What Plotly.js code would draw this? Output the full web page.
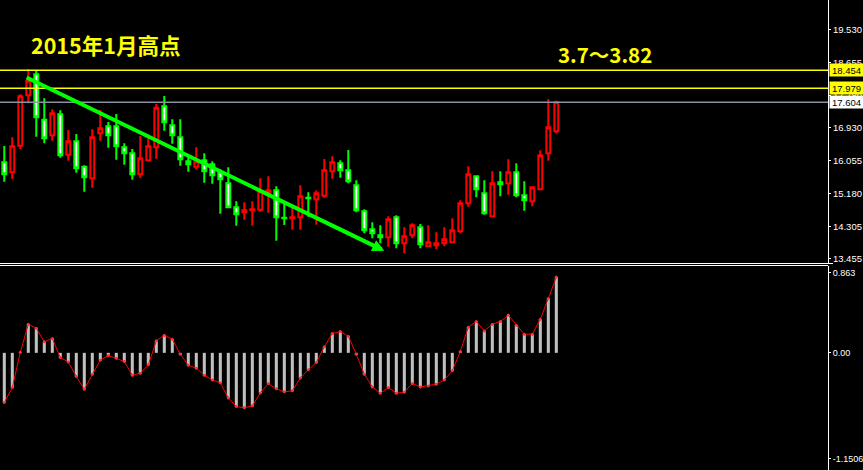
<!DOCTYPE html>
<html>
<head>
<meta charset="utf-8">
<script src="https://cdn.plot.ly/plotly-3.0.1.min.js"></script>
<style>
html,body{margin:0;padding:0;background:#000;}
#chart{width:863px;height:470px;}
</style>
</head>
<body>
<div id="chart"></div>
<script>
// ---- data ----
const open = [16.010,15.745,16.451,17.790,18.348,17.142,16.727,17.285,16.212,16.568,
  15.893,15.585,16.781,16.966,16.966,16.409,16.249,15.692,16.063,16.409,
  17.498,16.993,16.674,16.037,15.893,16.063,15.957,15.745,15.453,14.815,
  14.682,14.735,14.751,15.203,15.267,14.539,14.523,14.550,15.070,15.028,
  15.123,15.771,15.984,15.798,15.399,14.709,14.231,14.071,14.018,14.550,
  13.859,14.071,14.284,13.779,13.806,13.859,13.886,14.178,14.921,15.638,
  15.187,14.576,15.479,15.453,15.745,15.134,14.974,15.293,16.249,16.834];
const high = [16.443,16.674,17.816,18.480,18.435,17.710,17.418,17.391,16.868,16.762,
  15.931,16.887,17.399,17.081,17.293,16.515,16.364,16.709,16.664,17.559,
  17.771,17.152,17.152,16.178,16.409,16.249,16.037,15.824,15.878,14.974,
  14.948,14.974,15.585,15.639,15.373,14.921,14.815,15.399,15.214,15.267,
  16.098,16.170,16.063,16.337,15.532,14.762,14.417,14.337,14.576,14.603,
  14.284,14.390,14.372,14.337,14.151,14.284,14.523,15.001,15.904,15.665,
  15.532,15.771,15.771,16.090,15.984,15.506,15.346,16.329,17.684,17.646];
const low = [15.495,15.567,16.364,17.577,16.690,16.515,16.584,16.132,16.053,15.734,
  15.229,15.336,16.584,16.398,16.079,15.947,15.548,15.593,16.026,16.106,
  16.850,16.504,15.920,15.761,15.814,15.469,15.442,14.645,14.789,14.326,
  14.486,14.326,14.698,14.672,13.928,14.345,14.220,14.220,14.565,14.353,
  15.070,15.575,15.601,15.453,14.682,14.125,13.992,13.859,13.769,13.726,
  13.593,13.992,13.726,13.753,13.700,13.779,13.875,14.125,14.831,15.081,
  14.619,14.565,15.107,15.150,15.081,14.725,14.842,15.293,16.053,16.781];
const close = [15.692,16.435,17.763,18.178,17.206,16.648,17.312,16.196,16.568,15.851,
  15.612,16.674,16.913,16.727,16.435,16.249,15.692,16.117,16.435,17.460,
  17.073,16.727,16.090,15.957,16.037,15.771,15.665,15.559,14.815,14.629,
  14.735,14.762,15.240,15.267,14.550,14.523,14.550,15.107,15.054,15.187,
  15.798,16.010,15.798,15.506,14.735,14.204,14.125,14.018,14.496,13.859,
  14.045,14.337,13.832,13.886,13.859,13.965,14.204,14.921,15.692,15.293,
  14.656,15.453,15.426,15.745,15.134,15.001,15.346,16.196,16.940,17.604];
const macd = [-0.505,-0.353,0.005,0.292,0.251,0.112,0.146,-0.048,-0.092,-0.241,
  -0.370,-0.217,-0.074,-0.027,-0.054,-0.088,-0.227,-0.207,-0.122,0.122,
  0.179,0.139,-0.014,-0.125,-0.156,-0.227,-0.275,-0.305,-0.458,-0.546,
  -0.559,-0.539,-0.407,-0.312,-0.366,-0.396,-0.386,-0.255,-0.173,-0.098,
  0.061,0.197,0.217,0.169,-0.014,-0.217,-0.346,-0.410,-0.353,-0.410,
  -0.400,-0.312,-0.346,-0.336,-0.319,-0.275,-0.183,0.014,0.261,0.319,
  0.223,0.292,0.319,0.384,0.281,0.190,0.190,0.342,0.553,0.770];

const priceTickVals = [19.530,18.655,17.780,16.930,16.055,15.180,14.305,13.455];
const priceTickText = ['19.530','18.655','17.780','16.930','16.055','15.180','14.305','13.455'];
const levelYellow = [18.454, 17.979];
const levelLast = 17.604;
const macdTickVals = [0.812, 0, -1.079];
const macdTickText = ['0.863','0.00','-1.1506'];
const arrowFrom = [2.6, 18.28];
const arrowTo = [47.5, 13.66];
const title1 = '2015年1月高点';
const title2 = '3.7～3.82';

const idx = open.map((_, i) => i);

const fam = 'Liberation Sans, Arial, sans-serif';
const tickFont = {family:fam, size:9.5, color:'#ffffff'};

const traces = [
  {
    type:'candlestick', x:idx, open:open, high:high, low:low, close:close,
    xaxis:'x', yaxis:'y', hoverinfo:'none', whiskerwidth:0,
    increasing:{line:{color:'#ff0000', width:2}, fillcolor:'#000000'},
    decreasing:{line:{color:'#00ff00', width:2}, fillcolor:'#ffffff'},
    showlegend:false
  },
  {
    type:'bar', x:idx, y:macd, xaxis:'x2', yaxis:'y2', width:0.38,
    marker:{color:'#c0c0c0', line:{width:0}}, hoverinfo:'none', showlegend:false
  },
  {
    type:'scatter', mode:'lines+markers', x:idx, y:macd, xaxis:'x2', yaxis:'y2',
    line:{color:'#ff0000', width:1}, marker:{color:'#ff3030', size:3},
    hoverinfo:'none', showlegend:false
  }
];

const xr = [-0.5375, 102.96];
const pxY = p => 1 - p/470;

const layout = {
  width:863, height:470,
  margin:{l:0, r:35, t:0, b:0},
  paper_bgcolor:'#000000', plot_bgcolor:'#000000',
  showlegend:false,
  xaxis:{domain:[0,1], range:xr, anchor:'y', showticklabels:false, showgrid:false,
    zeroline:false, showline:false, ticks:'', rangeslider:{visible:false}, fixedrange:true},
  xaxis2:{domain:[0,1], range:xr, anchor:'y2', showticklabels:false, showgrid:false,
    zeroline:false, showline:false, ticks:'', fixedrange:true},
  yaxis:{domain:[pxY(264),1], range:[13.309, 20.321], side:'right', anchor:'x',
    showgrid:false, zeroline:false, showline:true, linecolor:'#ffffff', linewidth:1,
    ticks:'outside', ticklen:2, tickcolor:'#ffffff', tickvals:priceTickVals, ticktext:priceTickText,
    tickfont:tickFont, fixedrange:true},
  yaxis2:{domain:[0, pxY(266)], range:[-1.191, 0.883], side:'right', anchor:'x2',
    showgrid:false, zeroline:false, showline:true, linecolor:'#ffffff', linewidth:1,
    ticks:'outside', ticklen:2, tickcolor:'#ffffff', tickvals:macdTickVals, ticktext:macdTickText,
    tickfont:{family:fam, size:9, color:'#ffffff'}, fixedrange:true},
  shapes:[
    {type:'line', xref:'paper', yref:'y', x0:0, x1:1, y0:levelYellow[0], y1:levelYellow[0], line:{color:'#ffff00', width:1.5}},
    {type:'line', xref:'paper', yref:'y', x0:0, x1:1, y0:levelYellow[1], y1:levelYellow[1], line:{color:'#ffff00', width:1.5}},
    {type:'line', xref:'paper', yref:'y', x0:0, x1:1, y0:levelLast, y1:levelLast, line:{color:'#8a94a4', width:1.5}},
    {type:'line', xref:'paper', yref:'paper', x0:0, x1:1.006, y0:pxY(263.5), y1:pxY(263.5), line:{color:'#ffffff', width:1}},
    {type:'line', xref:'paper', yref:'paper', x0:0, x1:1, y0:pxY(265.5), y1:pxY(265.5), line:{color:'#ffffff', width:1}}
  ],
  annotations:[
    {xref:'x', yref:'y', x:arrowTo[0], y:arrowTo[1], axref:'x', ayref:'y', ax:arrowFrom[0], ay:arrowFrom[1],
      text:'', showarrow:true, arrowhead:2, arrowsize:0.6, arrowwidth:4, arrowcolor:'#00ff00', standoff:0},
    {xref:'paper', yref:'paper', x:29/828, y:pxY(45), xanchor:'left', yanchor:'middle', showarrow:false,
      text:title1, font:{family:'Noto Sans CJK SC, sans-serif', size:21.5, color:'#ffff00', weight:'bold'}},
    {xref:'paper', yref:'paper', x:556/828, y:pxY(54), xanchor:'left', yanchor:'middle', showarrow:false,
      text:title2, font:{family:'Noto Sans CJK SC, sans-serif', size:20.5, color:'#ffff00', weight:'bold'}},
    {xref:'paper', yref:'y', x:1, xshift:1, y:levelYellow[0], xanchor:'left', yanchor:'middle', showarrow:false,
      text:levelYellow[0].toFixed(3), bgcolor:'#ffff00', borderpad:0, width:33, height:12, align:'center',
      font:{family:fam, size:9.5, color:'#000000'}},
    {xref:'paper', yref:'y', x:1, xshift:1, y:levelYellow[1], xanchor:'left', yanchor:'middle', showarrow:false,
      text:levelYellow[1].toFixed(3), bgcolor:'#ffff00', borderpad:0, width:33, height:12, align:'center',
      font:{family:fam, size:9.5, color:'#000000'}},
    {xref:'paper', yref:'y', x:1, xshift:1, y:levelLast, xanchor:'left', yanchor:'middle', showarrow:false,
      text:levelLast.toFixed(3), bgcolor:'#ffffff', borderpad:0, width:33, height:12, align:'center',
      font:{family:fam, size:9.5, color:'#000000'}}
  ]
};

Plotly.newPlot('chart', traces, layout, {staticPlot:true, displayModeBar:false});
</script>
</body>
</html>
